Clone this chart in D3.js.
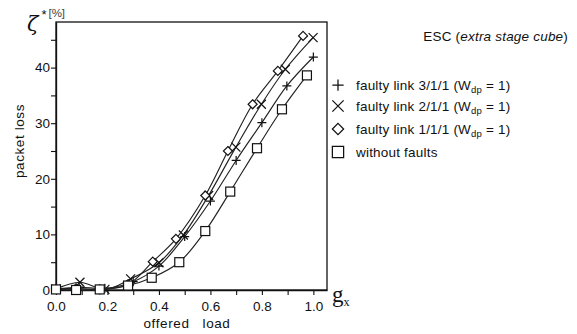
<!DOCTYPE html>
<html>
<head>
<meta charset="utf-8">
<script src="https://cdn.jsdelivr.net/npm/d3@7"></script>
<style>
  body { margin: 0; background: #fff; }
  text { font-family: "Liberation Sans", Arial, sans-serif; fill: #111; }
</style>
</head>
<body>
<svg id="chart" width="577" height="334"></svg>
<script>
// offered load (x) and packet loss in % (y)
const link311X = [0.0, 0.09, 0.19, 0.30, 0.40, 0.50, 0.60, 0.70, 0.80, 0.897, 1.0];
const link311Y = [0.2, 0.5, 0.3, 1.5, 4.3, 9.6, 16.0, 23.3, 30.1, 36.7, 41.9];

const link211X = [0.0, 0.093, 0.19, 0.29, 0.40, 0.495, 0.593, 0.699, 0.798, 0.891, 0.999];
const link211Y = [0.2, 1.4, 0.1, 2.0, 4.9, 9.9, 17.0, 25.7, 33.4, 39.7, 45.4];

const link111X = [0.0, 0.078, 0.17, 0.28, 0.376, 0.466, 0.58, 0.668, 0.764, 0.862, 0.96];
const link111Y = [0.2, 0.3, 0.1, 1.0, 5.1, 9.2, 17.0, 25.0, 33.4, 39.4, 45.7];

const noFaultX = [0.0, 0.078, 0.17, 0.28, 0.372, 0.479, 0.58, 0.677, 0.781, 0.878, 0.975];
const noFaultY = [0.1, 0.0, 0.1, 0.8, 2.2, 5.0, 10.6, 17.7, 25.5, 32.5, 38.6];

const xTicks = [0, 0.1, 0.2, 0.3, 0.4, 0.5, 0.6, 0.7, 0.8, 0.9, 1.0];
const yTicks = [0, 5, 10, 15, 20, 25, 30, 35, 40, 45];
const legendLabels = ["faulty link 3/1/1", "faulty link 2/1/1", "faulty link 1/1/1", "without faults"];

let margin = {top: 22, right: 250, bottom: 44, left: 56};
let width = 577 - margin.left - margin.right;
let height = 334 - margin.top - margin.bottom;

let x = d3.scaleLinear().domain([0, 1.053]).range([0, width]);
let y = d3.scaleLinear().domain([0, 48.2]).range([height, 0]);

let svg = d3.select("#chart");
let g = svg.append("g").attr("transform", `translate(${margin.left},${margin.top})`);

// frame
g.append("rect")
  .attr("width", width).attr("height", height)
  .attr("fill", "none").attr("stroke", "#111").attr("stroke-width", 1.3);

// axes
let xAxis = g.append("g")
  .attr("transform", `translate(0,${height})`)
  .call(d3.axisBottom(x).tickValues(xTicks).tickSize(5).tickSizeOuter(0)
    .tickFormat((d, i) => i % 2 === 0 ? d3.format(".1f")(d) : ""));
let yAxis = g.append("g")
  .call(d3.axisLeft(y).tickValues(yTicks).tickSize(5).tickSizeOuter(0)
    .tickFormat((d, i) => i % 2 === 0 ? d : ""));
[xAxis, yAxis].forEach(a => {
  a.select(".domain").attr("stroke", "#111").attr("stroke-width", 1.3);
  a.selectAll(".tick line").attr("stroke", "#111").attr("stroke-width", 1.1);
  a.selectAll(".tick text").style("font-size", "13.5px").attr("fill", "#111");
});
xAxis.selectAll(".tick text").attr("dy", "0.95em");
yAxis.selectAll(".tick text").attr("x", -6);

// markers
function drawMarker(sel, type) {
  let s = 4.5;
  if (type === "plus") {
    sel.append("path").attr("d", `M${-s},0H${s}M0,${-s}V${s}`);
  } else if (type === "cross") {
    sel.append("path").attr("d", `M${-s},${-s}L${s},${s}M${-s},${s}L${s},${-s}`);
  } else if (type === "diamond") {
    sel.append("path").attr("d", `M0,-4.5L4.5,0L0,4.5L-4.5,0Z`).attr("fill", "#fff");
  } else {
    sel.append("rect").attr("x", -4.5).attr("y", -4.5).attr("width", 9).attr("height", 9).attr("fill", "#fff");
  }
  sel.selectAll("path,rect").attr("stroke", "#111").attr("stroke-width", 1.2)
    .filter(function() { return !this.getAttribute("fill"); }).attr("fill", "none");
}

let series = [
  {xs: link311X, ys: link311Y, type: "plus"},
  {xs: link211X, ys: link211Y, type: "cross"},
  {xs: link111X, ys: link111Y, type: "diamond"},
  {xs: noFaultX, ys: noFaultY, type: "square"}
];

let line = d3.line()
  .x(d => x(d[0])).y(d => y(d[1]))
  .curve(d3.curveCatmullRom.alpha(0.5));

series.forEach(s => {
  let pts = s.xs.map((v, i) => [v, s.ys[i]]);
  g.append("path").datum(pts)
    .attr("fill", "none").attr("stroke", "#222").attr("stroke-width", 1.15)
    .attr("d", line);
  pts.forEach(p => {
    let m = g.append("g").attr("transform", `translate(${x(p[0])},${y(p[1])})`);
    drawMarker(m, s.type);
  });
});

// axis titles
svg.append("text")
  .attr("transform", "translate(24,141) rotate(-90)")
  .attr("text-anchor", "middle").style("font-size", "13.5px").style("letter-spacing", "0.6px")
  .text("packet loss");
svg.append("text")
  .attr("x", 187).attr("y", 328).attr("text-anchor", "middle")
  .style("font-size", "13.5px").style("letter-spacing", "0.6px").style("white-space", "pre")
  .text("offered   load");

let zeta = svg.append("text").attr("x", 27).attr("y", 31);
zeta.append("tspan").style("font-family", "'DejaVu Serif', serif").style("font-style", "italic")
  .style("font-size", "21px").text("ζ");
zeta.append("tspan").attr("dx", 3).attr("dy", -12).style("font-size", "13px").text("*");
zeta.append("tspan").attr("dx", 2).attr("dy", -2).style("font-size", "11.5px").attr("fill", "#444").text("[%]");

let gx = svg.append("text").attr("x", 332).attr("y", 302);
gx.append("tspan").style("font-family", "'Liberation Serif', serif").style("font-size", "23px").text("g");
gx.append("tspan").attr("dy", 4).style("font-family", "'Liberation Serif', serif").style("font-size", "12px").text("x");

// legend
let esc = svg.append("text").attr("x", 568).attr("y", 41).attr("text-anchor", "end")
  .style("font-size", "13.5px").style("letter-spacing", "0.2px");
esc.append("tspan").text("ESC (");
esc.append("tspan").style("font-style", "italic").text("extra stage cube");
esc.append("tspan").text(")");

let legendY = [85, 106, 129, 152];
series.forEach((s, i) => {
  let m = svg.append("g").attr("transform", `translate(338,${legendY[i]})`);
  drawMarker(m, s.type);
  m.selectAll("path,rect").attr("transform", "scale(1.25)").attr("stroke-width", 1);
  let t = svg.append("text").attr("x", 356).attr("y", legendY[i] + 5)
    .style("font-size", "13.5px").style("letter-spacing", "0.2px");
  t.append("tspan").text(legendLabels[i]);
  if (i < 3) {
    t.append("tspan").text(" (W");
    t.append("tspan").attr("dy", 3).style("font-size", "9.5px").text("dp");
    t.append("tspan").attr("dy", -3).text(" = 1)");
  }
});
</script>
</body>
</html>
